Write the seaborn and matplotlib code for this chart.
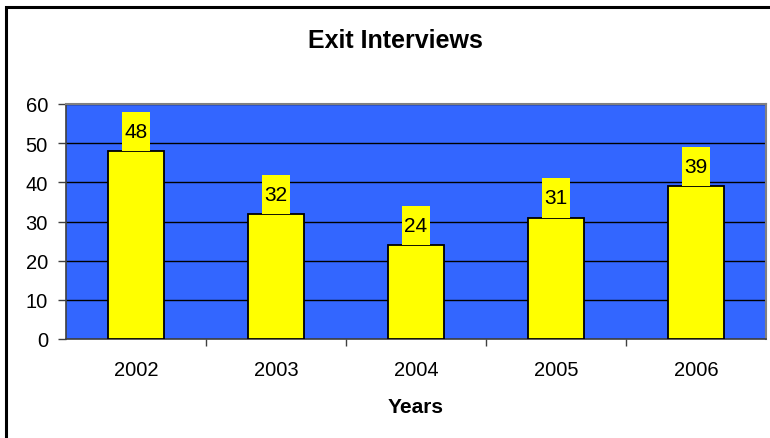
import matplotlib
matplotlib.use("Agg")
import matplotlib.pyplot as plt
from matplotlib.patches import Rectangle
import seaborn as sns
import pandas as pd

# Exit interview counts per year
years = ["2002", "2003", "2004", "2005", "2006"]
interviews = [48, 32, 24, 31, 39]
y_ticks = [0, 10, 20, 30, 40, 50, 60]

BLUE = "#3366FF"
YELLOW = "#FFFF00"

sns.set_theme(style="white")
plt.rcParams["font.family"] = ["Liberation Sans", "DejaVu Sans"]

df = pd.DataFrame({"Year": years, "Count": interviews})

fig = plt.figure(figsize=(7.70, 4.39), dpi=100)
ax = fig.add_axes([66 / 770, 1 - 340 / 439, 700 / 770, 235 / 439])

sns.barplot(data=df, x="Year", y="Count", color=YELLOW, saturation=1,
            width=0.4, edgecolor="black", linewidth=1.3, ax=ax, zorder=3)

ax.set_facecolor(BLUE)
ax.set_ylim(0, 60)
ax.set_xlim(-0.5, len(years) - 0.5)
ax.set_yticks(y_ticks)
ax.yaxis.grid(True, color="black", linewidth=1.0, zorder=1)
ax.set_axisbelow(True)

# value labels on yellow boxes sitting on each bar
box_w = 0.207
box_h = 10
for i, v in enumerate(interviews):
    ax.add_patch(Rectangle((i - box_w / 2, v), box_w, box_h,
                           facecolor=YELLOW, edgecolor="none", zorder=4))
    ax.text(i, v + box_h / 2, str(v), ha="center", va="center",
            fontsize=15, color="black", zorder=5)

# category boundary ticks on the x axis
ax.set_xticks([i + 0.5 for i in range(len(years) - 1)], minor=True)
ax.tick_params(axis="x", which="minor", length=5, width=1, color="#404040",
               direction="out", bottom=True)
ax.tick_params(axis="x", which="major", length=0, pad=15, labelsize=14.5,
               labelcolor="black")
ax.tick_params(axis="y", which="major", length=6, width=1, color="#404040",
               direction="out", left=True, pad=7, labelsize=14.5,
               labelcolor="black")

for side in ["left", "bottom"]:
    ax.spines[side].set_color("#404040")
    ax.spines[side].set_linewidth(1.2)
for side in ["top", "right"]:
    ax.spines[side].set_color("#808080")
    ax.spines[side].set_linewidth(1.5)

ax.set_ylabel("")
ax.set_xlabel("Years", fontsize=15, fontweight="bold", labelpad=13,
              color="black")

fig.text(395 / 770, 1 - 41 / 439, "Exit Interviews", ha="center",
         va="center", fontsize=18, fontweight="bold", color="black")

# chart frame
fig.add_artist(Rectangle((6.5 / 770, -0.1), 1.2, 1.1 - 7.5 / 439,
                         transform=fig.transFigure, fill=False,
                         edgecolor="black", linewidth=2.2))

fig.savefig("out.png", dpi=100, facecolor="white")
